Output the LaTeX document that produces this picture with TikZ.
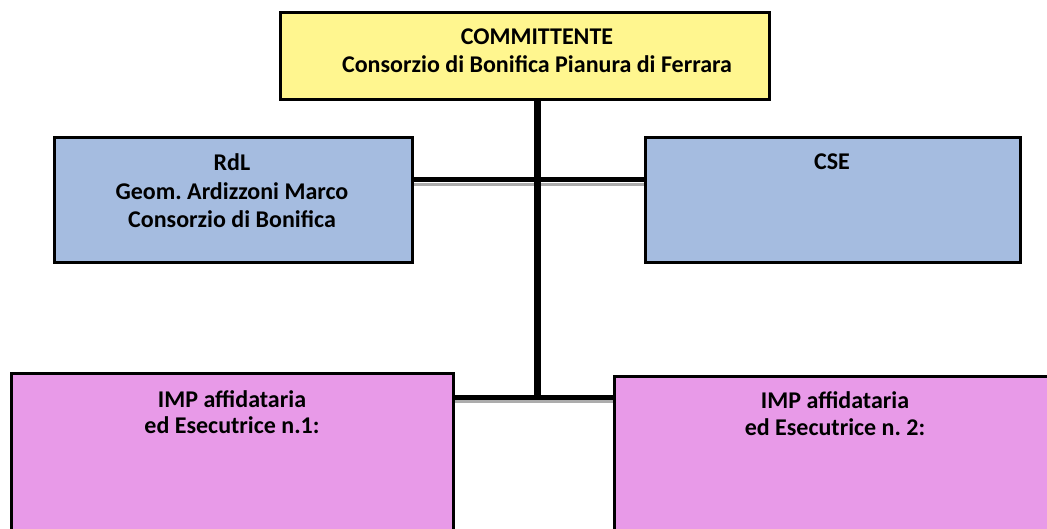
\documentclass[tikz,border=0pt]{standalone}
\usepackage{fontspec}
\setmainfont{Carlito}
\usetikzlibrary{positioning}
\frenchspacing

\definecolor{yellowbox}{RGB}{255,246,143}
\definecolor{bluebox}{RGB}{165,188,224}
\definecolor{pinkbox}{RGB}{232,154,232}

\begin{document}
\begin{tikzpicture}[
    x=1pt, y=-1pt,
    box/.style={rectangle, draw, line width=3pt, anchor=north west, inner sep=0pt},
    txt/.style={font=\fontsize{24}{28.5}\selectfont\bfseries, align=center, anchor=base, inner sep=0pt},
    trunk/.style={line width=7pt},
    link/.style={line width=5pt},
    shade/.style={line width=3.5pt, gray!65}
]
    \clip (0,0) rectangle (1047,529);

    % Boxes
    \node[box, fill=yellowbox, minimum width=489pt, minimum height=87pt] (committente) at (279,11) {};
    \node[box, fill=bluebox, minimum width=358pt, minimum height=125pt] (rdl) at (53,136) {};
    \node[box, fill=bluebox, minimum width=375pt, minimum height=125pt] (cse) at (644,136) {};
    \node[box, fill=pinkbox, minimum width=442pt, minimum height=190pt] (imp1) at (10,372) {};
    \node[box, fill=pinkbox, minimum width=447pt, minimum height=190pt] (imp2) at (613,375) {};

    % Connectors
    \coordinate (hub1) at (537,180);
    \coordinate (hub2) at (537,397);
    \draw[shade] ([yshift=-4.5pt]rdl.east |- hub1) -- ([yshift=-4.5pt]cse.west |- hub1);
    \draw[shade] ([yshift=-4.5pt]imp1.east |- hub2) -- ([yshift=-4.5pt]imp2.west |- hub2);
    \draw[link] (rdl.east |- hub1) -- (cse.west |- hub1);
    \draw[link] (imp1.east |- hub2) -- (imp2.west |- hub2);
    \draw[trunk] (committente.south -| hub2) -- ([yshift=-2pt]hub2);

    % Texts (anchored on the baseline of the last line)
    \node[txt, font=\fontsize{24}{28}\selectfont\bfseries] (committente-t) at (537,73) {COMMITTENTE\\Consorzio di Bonifica Pianura di Ferrara};
    \node[txt] (rdl-t) at (232,228) {RdL\\Geom. Ardizzoni Marco\\Consorzio di Bonifica};
    \node[txt] (cse-t) at (832,170) {CSE};
    \node[txt, font=\fontsize{24}{25.5}\selectfont\bfseries] (imp1-t) at (232,433) {IMP affidataria\\ed Esecutrice n.1:};
    \node[txt, font=\fontsize{24}{27}\selectfont\bfseries] (imp2-t) at (835,435) {IMP affidataria\\ed Esecutrice n. 2:};
\end{tikzpicture}
\end{document}
